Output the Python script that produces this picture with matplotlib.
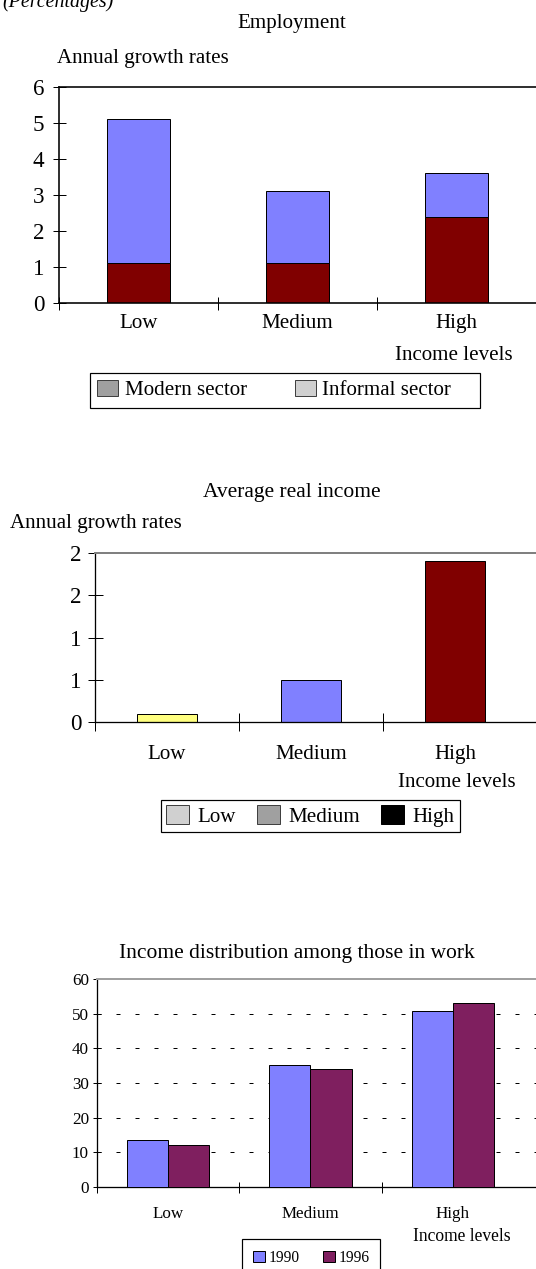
import numpy as np
import matplotlib
matplotlib.use("Agg")
import matplotlib.pyplot as plt
from matplotlib.patches import Patch
from matplotlib.ticker import FuncFormatter

plt.rcParams["font.family"] = ["Liberation Serif", "DejaVu Serif"]

# --- data ---
levels = ["Low", "Medium", "High"]
emp_modern = [1.1, 1.1, 2.4]
emp_informal = [4.0, 2.0, 1.2]
income_growth = [0.1, 0.5, 1.9]
income_colors = ["#FFFF80", "#8080FF", "#800000"]
years = ["1990", "1996"]
dist_1990 = [13.5, 35.2, 50.9]
dist_1996 = [12.1, 34.0, 53.2]

W, H = 536, 1269
fig = plt.figure(figsize=(W / 72, H / 72), dpi=72)


def axes_px(l, t, r, b):
    return fig.add_axes([l / W, 1 - b / H, (r - l) / W, (b - t) / H])


def text_px(x, y, s, **kw):
    fig.text(x / W, 1 - y / H, s, **kw)


def style_axes(ax, top_color, lw, xlen, ylen, ypad, xpad, lab_size):
    ax.spines["right"].set_visible(False)
    ax.spines["top"].set_color(top_color)
    ax.spines["top"].set_linewidth(lw)
    for s in ["left", "bottom"]:
        ax.spines[s].set_linewidth(lw)
    ax.set_xticks([-0.5, 0.5, 1.5])
    ax.set_xticklabels([])
    ax.set_xticks([0, 1, 2], minor=True)
    ax.set_xticklabels(levels, minor=True, fontsize=lab_size)
    ax.tick_params(axis="x", which="major", direction="inout", length=xlen, width=1)
    ax.tick_params(axis="x", which="minor", length=0, pad=xpad)
    ax.tick_params(axis="y", direction="inout", length=ylen, width=1, pad=ypad)


x = np.arange(len(levels))

# (Percentages) header, cut off at the top as in the source
text_px(2, 7, "(Percentages)", fontsize=20, style="italic", va="baseline")

# --- Employment ---
text_px(292, 28, "Employment", fontsize=21, ha="center", va="baseline")
text_px(57, 63, "Annual growth rates", fontsize=21, va="baseline")
ax1 = axes_px(59, 87, 536, 303)
ax1.bar(x, emp_modern, 0.4, color="#800000", edgecolor="black", lw=1)
ax1.bar(x, emp_informal, 0.4, bottom=emp_modern, color="#8080FF", edgecolor="black", lw=1)
ax1.set_xlim(-0.5, 2.5)
ax1.set_ylim(0, 6)
ax1.set_yticks(range(7))
ax1.tick_params(axis="y", labelsize=23)
style_axes(ax1, "black", 1.6, 13, 13, 8, 11, 21)
text_px(454, 360, "Income levels", fontsize=21, ha="center", va="baseline")
leg1 = ax1.legend([Patch(facecolor="#A0A0A0", edgecolor="#404040"),
                   Patch(facecolor="#D0D0D0", edgecolor="#404040")],
                  ["Modern sector", "Informal sector    "],
                  loc="upper left", bbox_to_anchor=(90 / W, 1 - 373 / H),
                  bbox_transform=fig.transFigure, ncol=2, fontsize=21,
                  frameon=True, fancybox=False, edgecolor="black", framealpha=1,
                  borderaxespad=0, borderpad=0.35, handlelength=1.0, handleheight=0.76,
                  handletextpad=0.3, columnspacing=2.3)
leg1.get_frame().set_linewidth(1.2)

# --- Average real income ---
text_px(292, 497, "Average real income", fontsize=21.5, ha="center", va="baseline")
text_px(10, 528, "Annual growth rates", fontsize=21, va="baseline")
ax2 = axes_px(95, 553, 536, 722)
ax2.bar(x, income_growth, 0.41, color=income_colors, edgecolor="black", lw=1)
ax2.set_xlim(-0.5, 2.5 + 9 / 144)
ax2.set_ylim(0, 2)
ax2.set_yticks([0, 0.5, 1, 1.5, 2])
ax2.yaxis.set_major_formatter(FuncFormatter(lambda v, p: f"{int(np.floor(v + 0.5))}"))
ax2.tick_params(axis="y", labelsize=23)
style_axes(ax2, "#808080", 1.3, 18, 15, 6, 23, 21)
ax2.spines["top"].set_linewidth(2)
text_px(457, 787, "Income levels", fontsize=21, ha="center", va="baseline")
leg2 = ax2.legend([Patch(facecolor="#D0D0D0", edgecolor="#404040"),
                   Patch(facecolor="#A0A0A0", edgecolor="#404040"),
                   Patch(facecolor="black", edgecolor="black")],
                  ["Low", "Medium", "High"],
                  loc="upper left", bbox_to_anchor=(161 / W, 1 - 800 / H),
                  bbox_transform=fig.transFigure, ncol=3, fontsize=21,
                  frameon=True, fancybox=False, edgecolor="black", framealpha=1,
                  borderaxespad=0, borderpad=0.25, handlelength=1.1, handleheight=1.0,
                  handletextpad=0.4, columnspacing=1.0)
leg2.get_frame().set_linewidth(1.2)

# --- Income distribution ---
text_px(297, 958, "Income distribution among those in work", fontsize=21.5,
        ha="center", va="baseline")
ax3 = axes_px(97, 979, 536, 1187)
ax3.bar(x - 0.145, dist_1990, 0.29, color="#8080FF", edgecolor="black", lw=1, zorder=3)
ax3.bar(x + 0.145, dist_1996, 0.29, color="#7F1F5F", edgecolor="black", lw=1, zorder=3)
ax3.set_xlim(-0.5, 2.5 + 12 / 142)
ax3.set_ylim(0, 60)
ax3.set_yticks(range(0, 61, 10))
ax3.tick_params(axis="y", labelsize=17)
ax3.yaxis.grid(True, linestyle=(0, (4, 15)), color="black", lw=1)
ax3.set_axisbelow(True)
style_axes(ax3, "#A0A0A0", 1.3, 11, 8, 4, 19, 17)
ax3.spines["top"].set_linewidth(2)
text_px(462, 1241, "Income levels", fontsize=17.5, ha="center", va="baseline")
leg3 = ax3.legend([Patch(facecolor="#8080FF", edgecolor="black"),
                   Patch(facecolor="#7F1F5F", edgecolor="black")],
                  years,
                  loc="upper left", bbox_to_anchor=(242 / W, 1 - 1239 / H),
                  bbox_transform=fig.transFigure, ncol=2, fontsize=15.5,
                  frameon=True, fancybox=False, edgecolor="black", framealpha=1,
                  borderaxespad=0, borderpad=0.7, handlelength=0.8, handleheight=0.8,
                  handletextpad=0.2, columnspacing=1.5)
leg3.get_frame().set_linewidth(1.2)

fig.savefig("out.png", dpi=72)
